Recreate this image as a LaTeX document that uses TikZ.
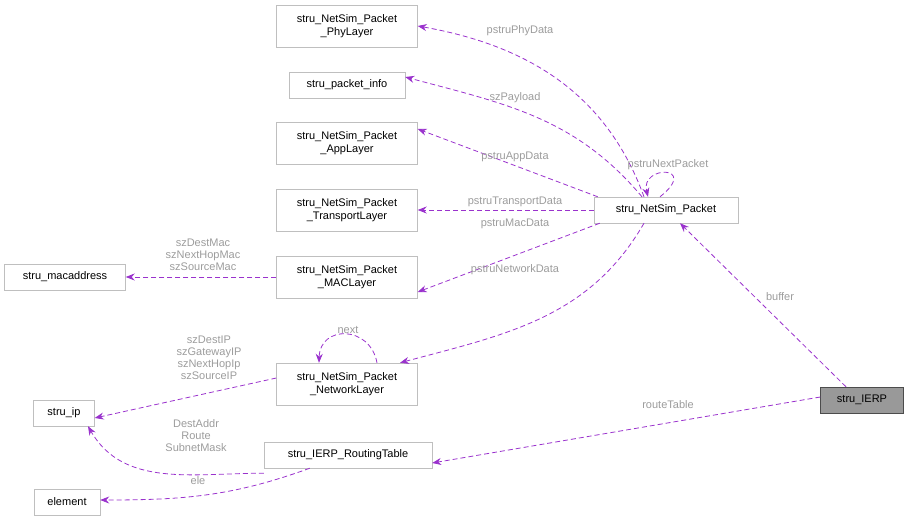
\documentclass[tikz,border=0pt]{standalone}
\usepackage{fontspec}
\setmainfont{Liberation Sans}
\usetikzlibrary{arrows.meta,positioning}
\definecolor{edgecol}{HTML}{9A32CD}
\definecolor{boxline}{HTML}{BFBFBF}
\definecolor{lblcol}{HTML}{9C9C9C}
\tikzset{
  cls/.style={draw=boxline,fill=white,inner sep=2pt,align=center,font=\fontsize{11}{13}\selectfont},
  rel/.style={draw=edgecol,dashed,dash pattern=on 5pt off 3pt,thick,-{Stealth[length=9pt,width=7pt]}},
  lbl/.style={text=lblcol,align=center,font=\fontsize{11}{12}\selectfont,inner sep=0pt}
}
\begin{document}
\begin{tikzpicture}[x=1pt,y=-1pt]
	\useasboundingbox (0,0) rectangle (909,521);
	%classes
	\node[cls,minimum width=141,minimum height=42] (phy) at (347,26) {stru\_NetSim\_Packet\\\_PhyLayer};
	\node[cls,minimum width=116,minimum height=26] (info) at (347,85) {stru\_packet\_info};
	\node[cls,minimum width=141,minimum height=42] (app) at (347,143) {stru\_NetSim\_Packet\\\_AppLayer};
	\node[cls,minimum width=141,minimum height=42] (trans) at (347,210) {stru\_NetSim\_Packet\\\_TransportLayer};
	\node[cls,minimum width=141,minimum height=42] (mac) at (347,277) {stru\_NetSim\_Packet\\\_MACLayer};
	\node[cls,minimum width=141,minimum height=42] (net) at (347,384) {stru\_NetSim\_Packet\\\_NetworkLayer};
	\node[cls,minimum width=168,minimum height=26] (rt) at (348,455) {stru\_IERP\_RoutingTable};
	\node[cls,minimum width=144,minimum height=26] (pkt) at (666,210) {stru\_NetSim\_Packet};
	\node[cls,fill=black!40,draw=black!70,minimum width=83,minimum height=26] (ierp) at (862,400) {stru\_IERP};
	\node[cls,minimum width=121,minimum height=26] (macaddr) at (65,277) {stru\_macaddress};
	\node[cls,minimum width=61,minimum height=26] (ip) at (64,413) {stru\_ip};
	\node[cls,minimum width=66,minimum height=26] (elem) at (67,502) {element};
	%relations
	\draw[rel] ([xshift=-22]pkt.north) to[out=110,in=-10] (phy.east);
	\draw[rel] ([xshift=-24]pkt.north) to[out=130,in=-15] ([yshift=8]info.east);
	\draw[rel] ([xshift=4]pkt.north west) -- ([yshift=14]app.east);
	\draw[rel] (pkt.west) -- (trans.east);
	\draw[rel] ([xshift=6]pkt.south west) -- ([yshift=-15]mac.east);
	\draw[rel] ([xshift=-22]pkt.south) to[out=-120,in=15] ([xshift=53]net.north);
	\draw[rel] ([xshift=-6]pkt.north) .. controls (700,165) and (640,165) .. ([xshift=-18]pkt.north);
	\draw[rel] ([xshift=-16]ierp.north) -- ([xshift=14]pkt.south);
	\draw[rel] ([yshift=3]ierp.west) -- ([yshift=-8]rt.east);
	\draw[rel] (mac.west) -- (macaddr.east);
	\draw[rel] ([yshift=6]net.west) -- ([yshift=-5]ip.east);
	\draw[rel] ([xshift=30]net.north) .. controls (370,325) and (320,325) .. ([xshift=-28]net.north);
	\draw[rel] ([yshift=-5]rt.south west) to[out=180,in=-60] ([xshift=24]ip.south);
	\draw[rel] ([xshift=46]rt.south west) to[out=-160,in=0] ([yshift=2]elem.east);
	%labels
	\node[lbl] at (520,31) {pstruPhyData};
	\node[lbl] at (515,98) {szPayload};
	\node[lbl] at (515,157) {pstruAppData};
	\node[lbl] at (515,202) {pstruTransportData};
	\node[lbl] at (515,224) {pstruMacData};
	\node[lbl] at (515,270) {pstruNetworkData};
	\node[lbl] at (668,165) {pstruNextPacket};
	\node[lbl] at (780,297) {buffer};
	\node[lbl] at (668,405) {routeTable};
	\node[lbl] at (203,255) {szDestMac\\szNextHopMac\\szSourceMac};
	\node[lbl] at (348,330) {next};
	\node[lbl] at (209,358) {szDestIP\\szGatewayIP\\szNextHopIp\\szSourceIP};
	\node[lbl] at (196,436) {DestAddr\\Route\\SubnetMask};
	\node[lbl] at (198,481) {ele};
\end{tikzpicture}
\end{document}
